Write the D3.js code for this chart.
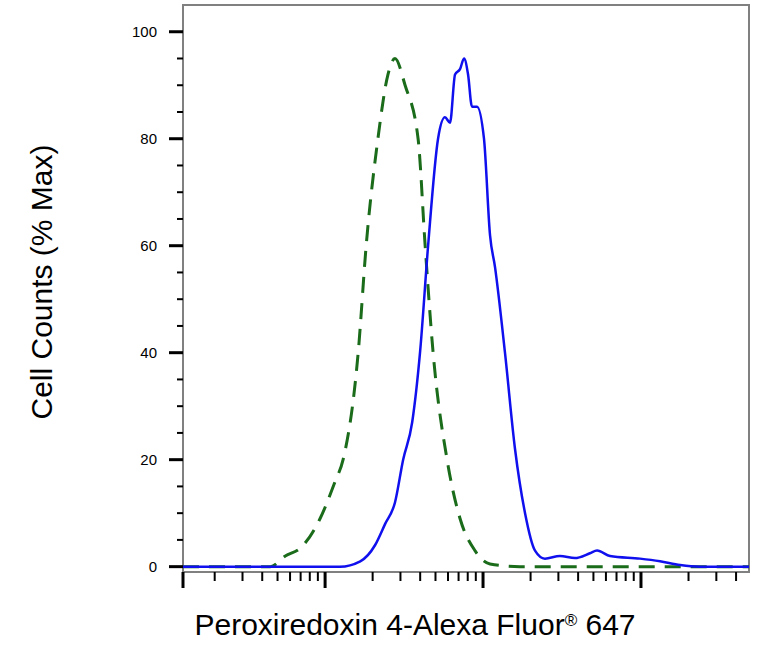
<html>
<head>
  <meta charset="UTF-8">
  <style>
    body { margin: 0; background: #fff; font-family: Arial, "Liberation Sans", sans-serif; }
  </style>
</head>
<body>
  <div id="chart"></div>
  <script src="https://cdnjs.cloudflare.com/ajax/libs/d3/7.8.4/d3.min.js"></script>
  <script>
    // Fluorescence intensity vs % of max
    const isotypeX = [12.6, 45, 56, 70, 93, 116, 130, 162, 182, 216, 250, 277, 321, 388, 430, 483, 592, 715, 889, 1107, 1714, 48300];
    const isotypeY = [0, 0, 2, 3.5, 9, 16, 20, 40, 60, 80, 92, 95, 90, 80, 60, 40, 20, 9, 3, 0.5, 0, 0];

    const stainedX = [12.6, 124, 167, 207, 240, 277, 312, 356, 399, 449, 519, 574, 618, 665, 715, 758, 804, 851, 916, 1014, 1107, 1191, 1377, 1594, 1845, 2134, 2466, 3069, 3820, 4750, 5270, 6370, 9860, 13200, 17700, 23600, 48300];
    const stainedY = [0, 0, 1, 4, 8, 12, 20, 27, 40, 60, 80, 84, 83, 92, 93, 95, 92, 86, 86, 80, 62, 56, 40, 22, 10, 3, 1.5, 2, 1.6, 2.5, 3, 2, 1.5, 1, 0.3, 0, 0];

    const yTicks = [0, 20, 40, 60, 80, 100];

    const width = 774, height = 652;
    const mLeft = 183, mRight = 749, mTop = 5, mBottom = 572;

    const svg = d3.select("#chart").append("svg")
      .attr("width", width).attr("height", height);

    const x = d3.scaleLog().domain([12.6, 48300]).range([mLeft, mRight]);
    const y = d3.scaleLinear().domain([-1, 105]).range([mBottom, mTop]);

    // frame
    svg.append("rect")
      .attr("x", mLeft).attr("y", mTop)
      .attr("width", mRight - mLeft).attr("height", mBottom - mTop)
      .attr("fill", "none").attr("stroke", "#808080").attr("stroke-width", 2);

    // y axis
    const yAxis = svg.append("g");
    d3.range(0, 101, 5).forEach(v => {
      const major = v % 20 === 0;
      yAxis.append("line")
        .attr("x1", mLeft - (major ? 14 : 6)).attr("x2", mLeft)
        .attr("y1", y(v)).attr("y2", y(v))
        .attr("stroke", "#000").attr("stroke-width", major ? 3 : 2);
    });
    yAxis.selectAll("text").data(yTicks).enter().append("text")
      .attr("x", 157).attr("y", d => y(d) + 5)
      .attr("text-anchor", "end").attr("font-size", 15)
      .text(d => d);

    // x axis (log ticks)
    const xAxis = svg.append("g");
    const xTicks = x.ticks().filter(v => v >= 12.6 && v <= 48300);
    xTicks.forEach(v => {
      const major = Math.abs(Math.log10(v) % 1) < 1e-9;
      xAxis.append("line")
        .attr("x1", x(v)).attr("x2", x(v))
        .attr("y1", mBottom).attr("y2", mBottom + (major ? 16 : 9))
        .attr("stroke", "#000").attr("stroke-width", major ? 3 : 2);
    });
    xAxis.append("line")
      .attr("x1", mLeft).attr("x2", mLeft)
      .attr("y1", mBottom).attr("y2", mBottom + 16)
      .attr("stroke", "#000").attr("stroke-width", 3);

    const line = d3.line().x(d => x(d[0])).y(d => y(d[1])).curve(d3.curveMonotoneX);

    svg.append("path")
      .datum(isotypeX.map((v, i) => [v, isotypeY[i]]))
      .attr("d", line)
      .attr("fill", "none").attr("stroke", "#1a6b1a")
      .attr("stroke-width", 3).attr("stroke-dasharray", "16,10");

    svg.append("path")
      .datum(stainedX.map((v, i) => [v, stainedY[i]]))
      .attr("d", line)
      .attr("fill", "none").attr("stroke", "#1010ee")
      .attr("stroke-width", 2.5);

    // labels
    svg.append("text")
      .attr("transform", "translate(52,282) rotate(-90)")
      .attr("text-anchor", "middle").attr("font-size", 30)
      .text("Cell Counts (% Max)");

    const xl = svg.append("text")
      .attr("x", 415).attr("y", 635)
      .attr("text-anchor", "middle").attr("font-size", 30);
    xl.append("tspan").text("Peroxiredoxin 4-Alexa Fluor");
    xl.append("tspan").attr("font-size", 17).attr("dy", -9).text("®");
    xl.append("tspan").attr("dy", 9).text(" 647");
  </script>
</body>
</html>
